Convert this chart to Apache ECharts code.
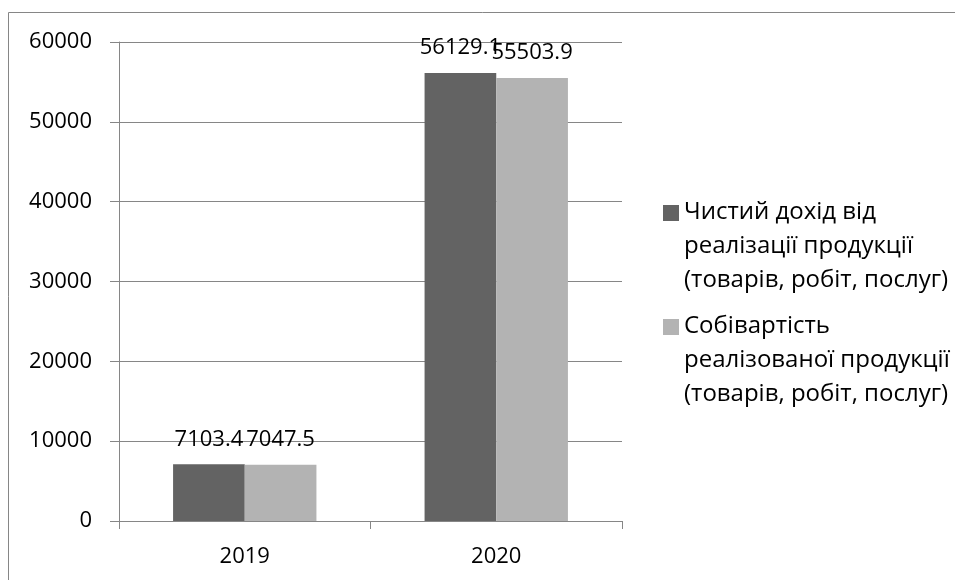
<!DOCTYPE html>
<html>
<head>
<meta charset="utf-8">
<script src="https://cdn.jsdelivr.net/npm/echarts@6/dist/echarts.min.js"></script>
<style>html,body{margin:0;padding:0;background:#fff;}#c{width:955px;height:580px;}</style>
</head>
<body>
<div id="c"></div>
<script>
var categories = ['2019', '2020'];
var seriesNames = ['Чистий дохід від\nреалізації продукції\n(товарів, робіт, послуг)', 'Собівартість\nреалізованої продукції\n(товарів, робіт, послуг)'];
var incomeValues = [7103.4, 56129.1];
var costValues = [7047.5, 55503.9];
var yTicks = { min: 0, max: 60000, interval: 10000 };

var FONT = 'Open Sans';
var chart = echarts.init(document.getElementById('c'), null, { renderer: 'canvas' });
var lbl = { show: true, position: 'top', distance: 14, color: '#000', fontFamily: FONT, fontSize: 22 };
chart.setOption({
  animation: false,
  backgroundColor: '#fff',
  graphic: [{ type: 'rect', shape: { x: 8.5, y: 12.5, width: 1000, height: 1000 }, style: { fill: 'none', stroke: '#868686', lineWidth: 1 }, silent: true }],
  grid: { left: 119, right: 333, top: 42, bottom: 59 },
  legend: {
    orient: 'vertical', left: 663, top: 195, itemGap: 12, padding: 0,
    itemWidth: 16, itemHeight: 102,
    icon: 'path://M0,0L0,0M0,10h16v16h-16zM16,102L16,102',
    textStyle: { fontFamily: FONT, fontSize: 24, color: '#000', lineHeight: 34 },
    data: seriesNames
  },
  xAxis: {
    type: 'category', data: categories,
    axisLine: { lineStyle: { color: '#868686' } },
    axisTick: { show: true, length: 8, lineStyle: { color: '#868686' } },
    axisLabel: { color: '#000', fontFamily: FONT, fontSize: 22, margin: 25 }
  },
  yAxis: {
    type: 'value', min: yTicks.min, max: yTicks.max, interval: yTicks.interval,
    axisLine: { show: true, lineStyle: { color: '#868686' } },
    axisTick: { show: true, length: 9, lineStyle: { color: '#868686' } },
    splitLine: { lineStyle: { color: '#868686' } },
    axisLabel: { color: '#000', fontFamily: FONT, fontSize: 22, margin: 27, formatter: function (v) { return String(v); } }
  },
  series: [
    { name: seriesNames[0], type: 'bar', data: incomeValues, barGap: '0%', barCategoryGap: '43%', itemStyle: { color: '#636363' }, label: lbl },
    { name: seriesNames[1], type: 'bar', data: costValues, barGap: '0%', barCategoryGap: '43%', itemStyle: { color: '#b3b3b3' }, label: lbl }
  ]
});
</script>
</body>
</html>
